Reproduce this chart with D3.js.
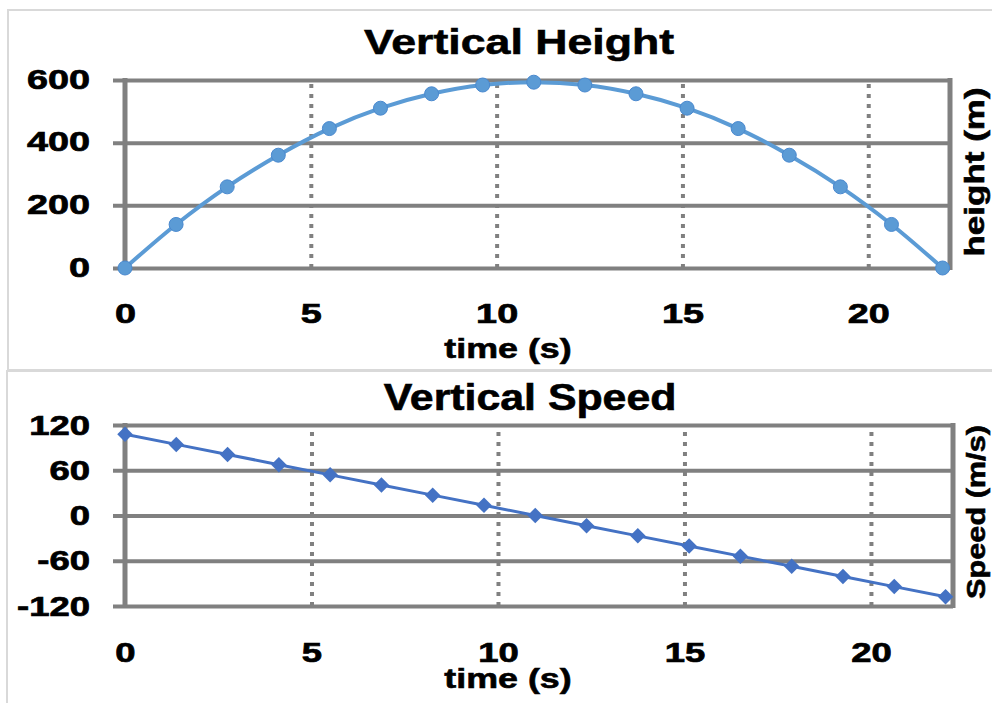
<!DOCTYPE html>
<html>
<head>
<meta charset="utf-8">
<script src="https://cdn.jsdelivr.net/npm/d3@7/dist/d3.min.js"></script>
<style>
  html, body { margin: 0; padding: 0; background: #fff; }
  svg { display: block; }
  text { font-family: "Liberation Sans", Arial, sans-serif; font-weight: bold; fill: #000; }
</style>
</head>
<body>
<svg id="chart" width="992" height="703"></svg>
<script>
// ---- data ----
const timeS = [0, 1.375, 2.75, 4.125, 5.5, 6.875, 8.25, 9.625, 11, 12.375, 13.75, 15.125, 16.5, 17.875, 19.25, 20.625, 22];
const heightM = [0, 139, 259, 360, 445, 510, 556, 584, 593, 584, 556, 510, 445, 360, 259, 139, 0];
const speedMS = [107.8, 94.3, 80.9, 67.4, 53.9, 40.4, 27.0, 13.5, 0, -13.5, -27.0, -40.4, -53.9, -67.4, -80.9, -94.3, -107.8];
const xTicks = [0, 5, 10, 15, 20];
const xGridTicks = [5, 10, 15, 20];
const heightTicks = [0, 200, 400, 600];
const speedTicks = [-120, -60, 0, 60, 120];
const titles = ["Vertical Height", "Vertical Speed"];
const yLabels = ["height (m)", "Speed (m/s)"];
const xLabel = "time (s)";

const svg = d3.select("#chart");
const GRID = "#808080";

// panel backgrounds
svg.append("rect").attr("x", 8).attr("y", 10).attr("width", 1000).attr("height", 360)
  .attr("fill", "#fff").attr("stroke", "#d9d9d9").attr("stroke-width", 2);
svg.append("rect").attr("x", 7).attr("y", 371).attr("width", 1000).attr("height", 400)
  .attr("fill", "#fff").attr("stroke", "#d9d9d9").attr("stroke-width", 2);

function styleText(sel, size, sx, dx, dy, anchor) {
  sel.attr("x", null).attr("y", null).attr("dy", null)
    .attr("text-anchor", anchor)
    .attr("transform", `translate(${dx},${dy}) scale(${sx},1)`)
    .style("font-size", size + "px")
    .style("font-family", '"Liberation Sans", Arial, sans-serif')
    .style("font-weight", "bold")
    .attr("fill", "#000")
    .attr("stroke", "#000").attr("stroke-width", 0.7);
}

function label(str, x, y, size, sx, rot) {
  svg.append("text")
    .attr("text-anchor", "middle")
    .attr("transform", `translate(${x},${y}) rotate(${rot || 0}) scale(${sx},1)`)
    .style("font-size", size + "px")
    .attr("stroke", "#000").attr("stroke-width", 0.6)
    .text(str);
}

const plainFmt = d => String(d);

function drawChart(cfg) {
  const x = d3.scaleLinear().domain([0, 22.2]).range([cfg.left, cfg.right]);
  const y = d3.scaleLinear().domain(cfg.yDomain).range([cfg.bottom, cfg.top]);
  const g = svg.append("g");

  // horizontal gridlines + left tick stubs (axis)
  const yAxis = d3.axisLeft(y).tickValues(cfg.yTicks).tickFormat(plainFmt)
    .tickSizeInner(-(cfg.right - cfg.left + 12)).tickSizeOuter(0).tickPadding(0);
  const ya = g.append("g").attr("transform", `translate(${cfg.left - 12},0)`).call(yAxis);
  ya.select(".domain").remove();
  ya.selectAll(".tick line").attr("stroke", GRID).attr("stroke-width", 4);
  ya.selectAll(".tick text").call(styleText, cfg.yFont, 1.35, 90 - (cfg.left - 12), cfg.yTextDy, "end");

  // vertical dotted gridlines
  const xGrid = d3.axisBottom(x).tickValues(xGridTicks).tickSize(-(cfg.bottom - cfg.top)).tickFormat("");
  const xg = g.append("g").attr("transform", `translate(0,${cfg.bottom})`).call(xGrid);
  xg.select(".domain").remove();
  xg.selectAll(".tick line").attr("stroke", GRID).attr("stroke-width", 4).attr("stroke-dasharray", "4,6");

  // x axis labels
  const xAxis = d3.axisBottom(x).tickValues(xTicks).tickSize(0).tickFormat(plainFmt);
  const xa = g.append("g").attr("transform", `translate(0,${cfg.bottom})`).call(xAxis);
  xa.select(".domain").remove();
  xa.selectAll(".tick text").call(styleText, cfg.yFont, 1.35, 0, cfg.xTextDy, "middle");

  // left axis line and right border
  g.append("line").attr("x1", x(0)).attr("x2", x(0)).attr("y1", cfg.top - 2).attr("y2", cfg.bottom + 2)
    .attr("stroke", GRID).attr("stroke-width", 5);
  g.append("line").attr("x1", cfg.right).attr("x2", cfg.right).attr("y1", cfg.top - 2).attr("y2", cfg.bottom + 2)
    .attr("stroke", GRID).attr("stroke-width", 5);

  const pts = timeS.map((t, i) => [t, cfg.values[i]]);
  const line = d3.line().x(d => x(d[0])).y(d => y(d[1])).curve(cfg.curve);
  g.append("path").datum(pts).attr("d", line).attr("fill", "none")
    .attr("stroke", cfg.lineColor).attr("stroke-width", cfg.lineWidth);

  if (cfg.marker === "circle") {
    g.selectAll("circle.m").data(pts).join("circle").attr("class", "m")
      .attr("cx", d => x(d[0])).attr("cy", d => y(d[1])).attr("r", 7)
      .attr("fill", "#5b9bd5").attr("stroke", "#4a89cf").attr("stroke-width", 1);
  } else {
    const sym = d3.symbol().type(d3.symbolSquare).size(120);
    g.selectAll("path.m").data(pts).join("path").attr("class", "m")
      .attr("d", sym)
      .attr("transform", d => `translate(${x(d[0])},${y(d[1])}) rotate(45)`)
      .attr("fill", "#4472c4");
  }

  label(cfg.title, cfg.titleX, cfg.titleY, 36, cfg.titleSx, 0);
  label(xLabel, 508, cfg.xLabelY, 28, 1.28, 0);
  label(cfg.yLabel, cfg.yLabelX, cfg.yLabelY, cfg.yLabelSize, cfg.yLabelSx, -90);
}

drawChart({
  title: titles[0], yLabel: yLabels[0], values: heightM, yTicks: heightTicks, yDomain: [0, 600],
  left: 125, right: 950, top: 80, bottom: 268,
  yFont: 28, yTextDy: 8, xTextDy: 55,
  curve: d3.curveCatmullRom.alpha(0.5), lineColor: "#5b9bd5", lineWidth: 4, marker: "circle",
  titleX: 519, titleY: 54, titleSx: 1.24,
  xLabelY: 358, yLabelX: 984, yLabelY: 172, yLabelSize: 28, yLabelSx: 1.25
});

drawChart({
  title: titles[1], yLabel: yLabels[1], values: speedMS, yTicks: speedTicks, yDomain: [-120, 120],
  left: 125, right: 953, top: 425, bottom: 606,
  yFont: 27, yTextDy: 9, xTextDy: 56,
  curve: d3.curveLinear, lineColor: "#4472c4", lineWidth: 3, marker: "diamond",
  titleX: 530, titleY: 410, titleSx: 1.19,
  xLabelY: 688, yLabelX: 985, yLabelY: 512, yLabelSize: 26, yLabelSx: 1.18
});
</script>
</body>
</html>
